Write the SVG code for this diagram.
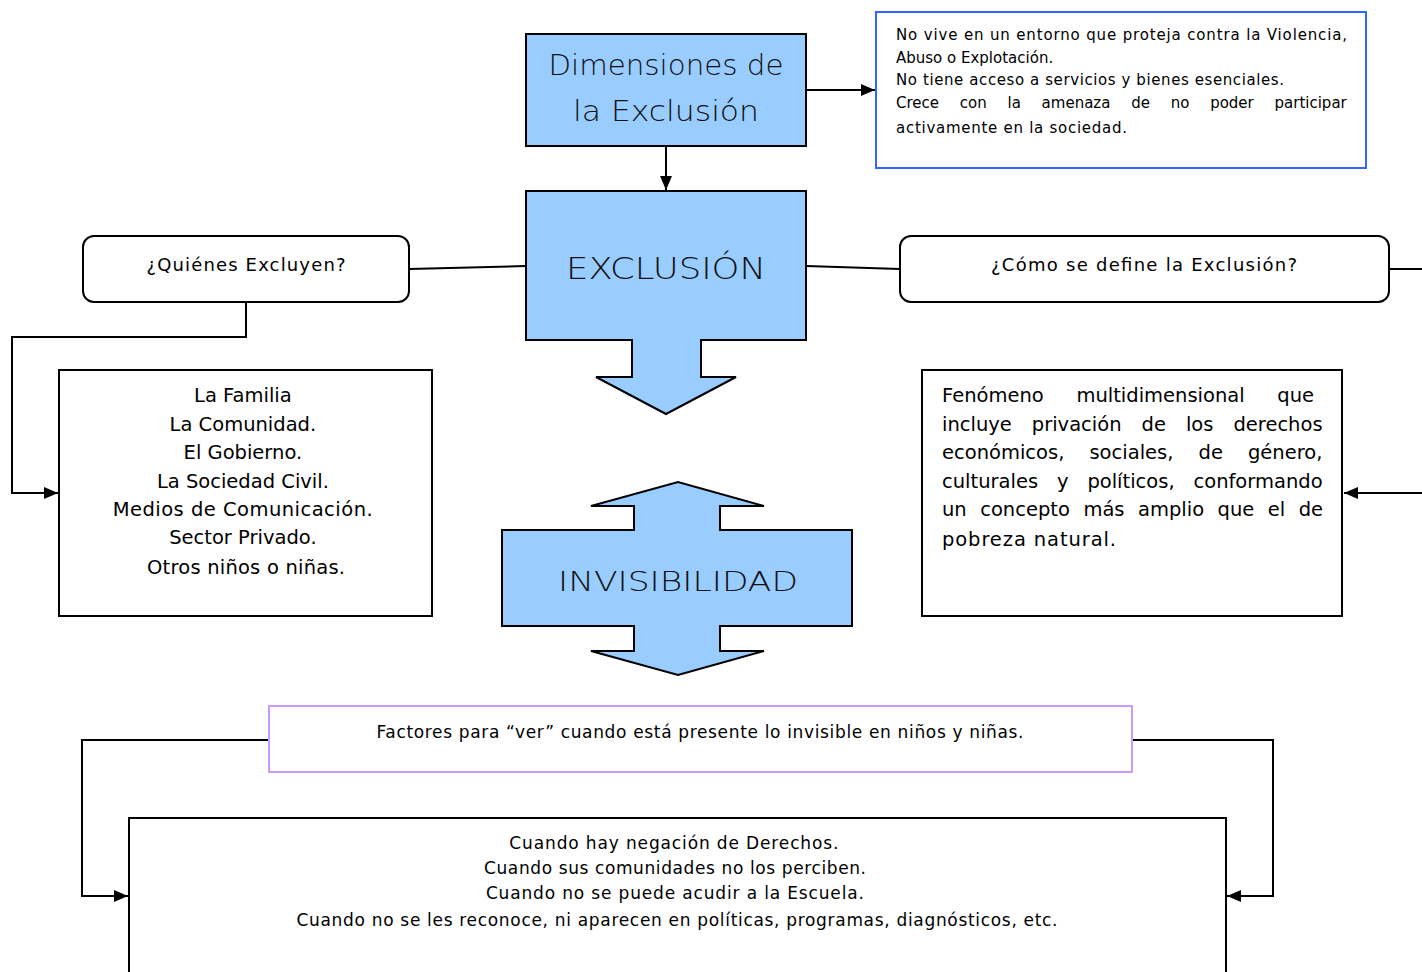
<svg xmlns="http://www.w3.org/2000/svg" width="1422" height="972" viewBox="0 0 1422 972">
<style>
.t{font-family:"DejaVu Sans","Liberation Sans",sans-serif;fill:#000}
.h{font-family:"DejaVu Sans","Liberation Sans",sans-serif;fill:#111;font-weight:300}
.box{fill:#fff;stroke:#000;stroke-width:2}
.blue{fill:#99ccff;stroke:#000;stroke-width:2}
.c{fill:none;stroke:#000;stroke-width:2}
</style>
<defs>
<marker id="ah" viewBox="0 0 14 12" refX="14" refY="6" markerWidth="14" markerHeight="12" markerUnits="userSpaceOnUse" orient="auto">
<path d="M0,0 L14,6 L0,12 Z" fill="#000"/>
</marker>
</defs>
<rect width="1422" height="972" fill="#fff"/>

<g id="connectors">
<line class="c" x1="666" y1="146" x2="666" y2="190" marker-end="url(#ah)"/>
<line class="c" x1="806" y1="90" x2="875" y2="90" marker-end="url(#ah)"/>
<line class="c" x1="409" y1="269" x2="526" y2="266"/>
<line class="c" x1="806" y1="266" x2="900" y2="269"/>
<path class="c" d="M246,302 V337 H12 V493 H58" marker-end="url(#ah)"/>
<path class="c" d="M1389,269 H1440 V493 H1344" marker-end="url(#ah)"/>
<path class="c" d="M269,740 H82 V896 H128" marker-end="url(#ah)"/>
<path class="c" d="M1132,740 H1273 V896 H1227" marker-end="url(#ah)"/>
</g>

<g id="dimensiones">
<rect class="blue" x="526" y="34" width="280" height="112"/>
<text class="h" x="666" y="75" font-size="28" text-anchor="middle" textLength="235" lengthAdjust="spacingAndGlyphs">Dimensiones de</text>
<text class="h" x="666" y="121" font-size="28" text-anchor="middle" textLength="186" lengthAdjust="spacingAndGlyphs">la Exclusión</text>
</g>

<g id="descripcion">
<rect x="876" y="12" width="490" height="156" fill="#fff" stroke="#3366ff" stroke-width="2"/>
<text class="t" font-size="15">
<tspan x="896" y="40" textLength="451" lengthAdjust="spacing">No vive en un entorno que proteja contra la Violencia,</tspan>
<tspan x="896" y="63">Abuso o Explotación.</tspan>
<tspan x="896" y="85" textLength="388" lengthAdjust="spacing">No tiene acceso a servicios y bienes esenciales.</tspan>
<tspan x="896" y="108" word-spacing="16">Crece con la amenaza de no poder participar</tspan>
<tspan x="896" y="133" textLength="231" lengthAdjust="spacing">activamente en la sociedad.</tspan>
</text>
</g>

<g id="exclusion">
<path class="blue" d="M526,191 H806 V340 H701 V377 H736 L666,414 L596,377 H632 V340 H526 Z"/>
<text class="h" x="666" y="279" font-size="30" text-anchor="middle" textLength="200" lengthAdjust="spacingAndGlyphs">EXCLUSIÓN</text>
</g>

<g id="quienes">
<rect class="box" x="83" y="236" width="326" height="66" rx="11"/>
<text class="t" x="246" y="271" font-size="18" text-anchor="middle" textLength="199" lengthAdjust="spacing">¿Quiénes Excluyen?</text>
</g>

<g id="como">
<rect class="box" x="900" y="236" width="489" height="66" rx="11"/>
<text class="t" x="1144" y="271" font-size="18" text-anchor="middle" textLength="306" lengthAdjust="spacing">¿Cómo se define la Exclusión?</text>
</g>

<g id="lista">
<rect class="box" x="59" y="370" width="373" height="246"/>
<text class="t" font-size="19.5" text-anchor="middle">
<tspan x="246" y="402">La Familia</tspan>
<tspan x="246" y="431">La Comunidad.</tspan>
<tspan x="246" y="459">El Gobierno.</tspan>
<tspan x="246" y="488">La Sociedad Civil.</tspan>
<tspan x="246" y="516" textLength="260" lengthAdjust="spacing">Medios de Comunicación.</tspan>
<tspan x="246" y="544">Sector Privado.</tspan>
<tspan x="246" y="574" textLength="198" lengthAdjust="spacing">Otros niños o niñas.</tspan>
</text>
</g>

<g id="definicion">
<rect class="box" x="922" y="370" width="420" height="246"/>
<text class="t" font-size="19.5">
<tspan x="942" y="402" word-spacing="26.5">Fenómeno multidimensional que</tspan>
<tspan x="942" y="431" word-spacing="13.8">incluye privación de los derechos</tspan>
<tspan x="942" y="459" word-spacing="18.9">económicos, sociales, de género,</tspan>
<tspan x="942" y="488" word-spacing="12.7">culturales y políticos, conformando</tspan>
<tspan x="942" y="516" word-spacing="7.3">un concepto más amplio que el de</tspan>
<tspan x="942" y="546" textLength="174" lengthAdjust="spacing">pobreza natural.</tspan>
</text>
</g>

<g id="invisibilidad">
<path class="blue" d="M502,530 H634 V506 H591 L678,482 L764,506 H720 V530 H852 V626 H720 V651 H764 L678,675 L591,651 H634 V626 H502 Z"/>
<text class="h" x="678" y="591" font-size="27" text-anchor="middle" textLength="240" lengthAdjust="spacingAndGlyphs">INVISIBILIDAD</text>
</g>

<g id="factores">
<rect x="269" y="706" width="863" height="66" fill="#fff" stroke="#cc99ff" stroke-width="2"/>
<text class="t" x="700" y="738" font-size="17" text-anchor="middle" textLength="647" lengthAdjust="spacing">Factores para “ver” cuando está presente lo invisible en niños y niñas.</text>
</g>

<g id="cuando">
<rect class="box" x="129" y="818" width="1097" height="170"/>
<text class="t" font-size="17" text-anchor="middle">
<tspan x="677" y="849" textLength="329" lengthAdjust="spacing">Cuando hay negación de Derechos.</tspan>
<tspan x="678" y="874" textLength="382" lengthAdjust="spacing">Cuando sus comunidades no los perciben.</tspan>
<tspan x="678" y="899" textLength="378" lengthAdjust="spacing">Cuando no se puede acudir a la Escuela.</tspan>
<tspan x="677" y="926" textLength="761" lengthAdjust="spacing">Cuando no se les reconoce, ni aparecen en políticas, programas, diagnósticos, etc.</tspan>
</text>
</g>
</svg>
